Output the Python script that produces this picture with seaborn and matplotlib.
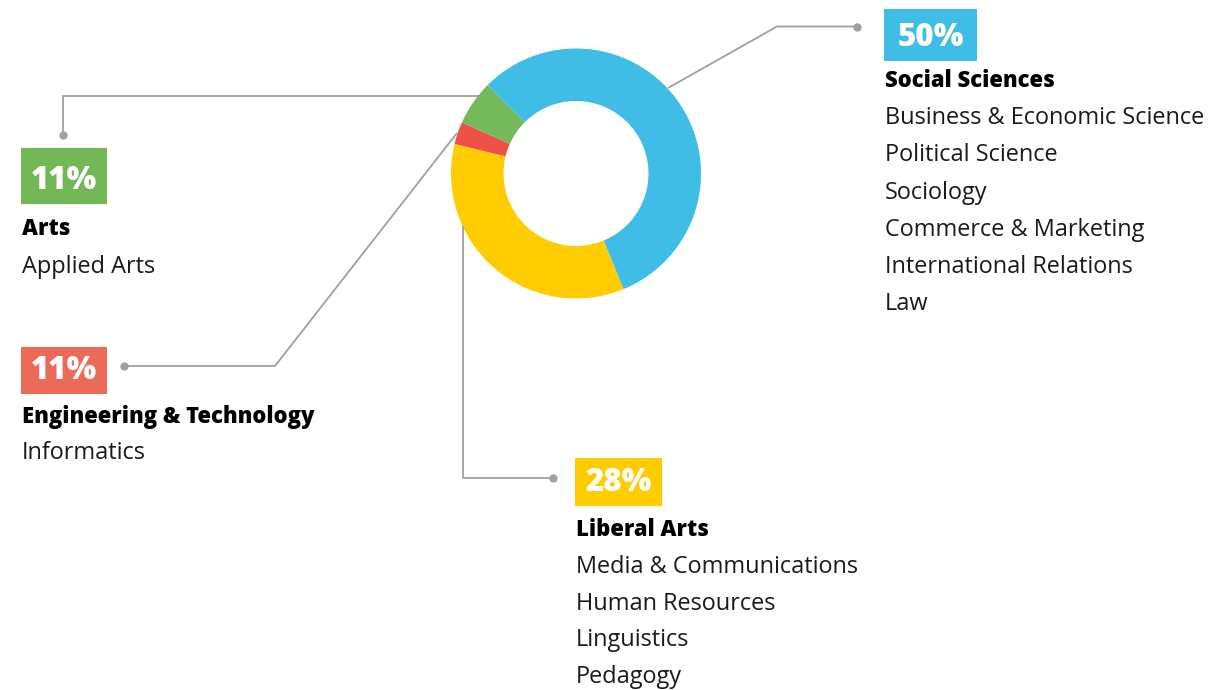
import matplotlib
matplotlib.use("Agg")
import matplotlib.pyplot as plt
import seaborn as sns
from matplotlib.patches import Rectangle

sns.set_theme(style="white")
plt.rcParams["font.family"] = ["Open Sans", "DejaVu Sans"]

# data (drawn shares, clockwise from the top-left)
fields = ["Social Sciences", "Liberal Arts", "Engineering & Technology", "Arts"]
shares = [56.3, 35.0, 2.9, 5.8]
wedge_colors = ["#3FBDE6", "#FFCC00", "#EE5147", "#74B95A"]

# labelled percentages and sub-fields
pct_labels = ["50%", "28%", "11%", "11%"]
box_colors = ["#3FBDE6", "#FFCC00", "#EC6B58", "#72B857"]
subfields = [
    ["Business & Economic Science", "Political Science", "Sociology",
     "Commerce & Marketing", "International Relations", "Law"],
    ["Media & Communications", "Human Resources", "Linguistics", "Pedagogy"],
    ["Informatics"],
    ["Applied Arts"],
]

W, H = 1214, 690
fig = plt.figure(figsize=(W / 100, H / 100), dpi=100)
ax = fig.add_axes([0, 0, 1, 1])


def Y(y):
    return H - y


# donut
ax.pie(shares, colors=wedge_colors, startangle=135, counterclock=False,
       center=(576, Y(173.5)), radius=125,
       wedgeprops=dict(width=52.5, linewidth=0))

# leader lines (pixel layout)
leaders = [
    [(668, 88), (777, 26.5), (857, 26.5)],
    [(463, 226), (463, 478), (553, 478)],
    [(457, 133), (275, 366), (124, 366)],
    [(480, 95.5), (63, 95.5), (63, 135)],
]
line_col = "#A0A0A0"
for pts in leaders:
    xs = [p[0] for p in pts]
    ys = [Y(p[1]) for p in pts]
    ax.plot(xs, ys, color=line_col, lw=1.3, solid_capstyle="butt", zorder=1)
    ax.plot(xs[-1], ys[-1], "o", color=line_col, ms=6, mec="none", zorder=2)

# label blocks: box (x0, y0, x1, y1), bold title baseline, first item baseline, line step
blocks = [
    ((884, 9, 977, 61), 87, 124, 37.3),
    ((575, 458, 662, 506), 536, 573, 36.7),
    ((21, 347, 107, 394), 423, 459, 37),
    ((21, 148, 107, 204), 235, 273, 37),
]
for i, ((x0, y0, x1, y1), ty, iy, step) in enumerate(blocks):
    ax.add_patch(Rectangle((x0, Y(y1)), x1 - x0, y1 - y0,
                           facecolor=box_colors[i], edgecolor="none"))
    ax.text((x0 + x1) / 2, Y(y1 - 15), pct_labels[i], ha="center",
            va="baseline", color="white", fontsize=22.5, fontweight="heavy")
    ax.text(x0 + 1, Y(ty), fields[i], ha="left", va="baseline",
            color="black", fontsize=15.8, fontweight="heavy")
    for k, s in enumerate(subfields[i]):
        ax.text(x0 + 1, Y(iy + k * step), s, ha="left", va="baseline",
                color="#1A1A1A", fontsize=16.9)

ax.set_xlim(0, W)
ax.set_ylim(0, H)
ax.set_aspect("equal")
ax.axis("off")

fig.savefig("out.png", dpi=100, facecolor="white")
